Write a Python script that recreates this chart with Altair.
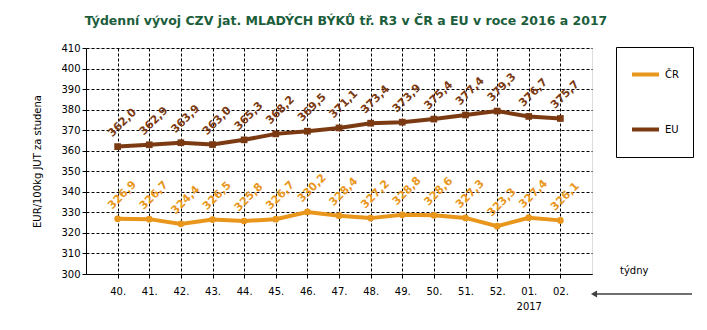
import altair as alt
import pandas as pd

weeks = ["40.", "41.", "42.", "43.", "44.", "45.", "46.", "47.", "48.", "49.", "50.", "51.", "52.", "01.", "02."]
cr_values = [326.9, 326.7, 324.4, 326.5, 325.8, 326.7, 330.2, 328.4, 327.2, 328.8, 328.6, 327.3, 323.3, 327.4, 326.1]
eu_values = [362.0, 362.9, 363.9, 363.0, 365.3, 368.2, 369.5, 371.1, 373.4, 373.9, 375.4, 377.4, 379.3, 376.7, 375.7]
series = ["ČR", "EU"]
colors = ["#e8961c", "#7b3a12"]
shapes = ["circle", "square"]
y_ticks = [300, 310, 320, 330, 340, 350, 360, 370, 380, 390, 400, 410]
title_text = "Týdenní  vývoj CZV jat. MLADÝCH BÝKŮ tř. R3  v ČR a EU v roce 2016 a 2017"
y_title = "EUR/100kg  JUT za studena"

df = pd.DataFrame({
    "tyden": weeks * 2,
    "serie": [series[0]] * len(weeks) + [series[1]] * len(weeks),
    "cena": cr_values + eu_values,
})

FONT = "DejaVu Sans"

x_enc = alt.X(
    "tyden:N", sort=weeks, title=None,
    scale=alt.Scale(type="point", padding=1),
    axis=alt.Axis(
        labelAngle=0, labelFont=FONT, labelFontSize=10, labelColor="black",
        labelPadding=8, labelLineHeight=15,
        labelExpr="datum.value == '01.' ? ['01.', '2017'] : datum.value",
        domainColor="black", tickColor="black", tickSize=4,
        grid=True, gridColor="black", gridDash=[3, 2], gridWidth=1,
    ),
)
y_enc = alt.Y(
    "cena:Q", title=y_title,
    scale=alt.Scale(domain=[300, 410], nice=False, zero=False),
    axis=alt.Axis(
        values=y_ticks, labelFont=FONT, labelFontSize=10,
        labelOverlap=False,
        labelColor="black", tickColor="black", tickSize=4, domainColor="black",
        grid=True, gridColor="black", gridDash=[3, 2], gridWidth=1,
        titleFont=FONT, titleFontSize=10, titleFontWeight="normal", titleColor="black",
        titlePadding=18,
    ),
)
color_scale = alt.Scale(domain=series, range=colors)

base = alt.Chart(df)

lines = base.mark_line(strokeWidth=4).encode(
    x=x_enc, y=y_enc,
    color=alt.Color("serie:N", scale=color_scale, legend=alt.Legend(
        title=None, orient="none", legendX=530, legendY=-1,
        strokeColor="black", fillColor="white", padding=14,
        symbolType="stroke", symbolSize=729, symbolStrokeWidth=4,
        labelFont=FONT, labelFontSize=10, labelColor="black", labelOffset=4,
        rowPadding=28, clipHeight=27,
    )),
)

point_layers = []
for name, shp in zip(series, shapes):
    point_layers.append(
        base.transform_filter(alt.datum.serie == name).mark_point(
            filled=True, size=45, opacity=1, shape=shp
        ).encode(
            x=x_enc, y=y_enc,
            color=alt.Color("serie:N", scale=color_scale, legend=None),
        )
    )

labels = base.transform_calculate(
    lab="replace(format(datum.cena, '.1f'), '.', ',')"
).mark_text(
    angle=315, radius=24, theta=0.2, align="center", baseline="middle",
    font=FONT, fontSize=11, fontWeight="bold",
).encode(
    x=x_enc, y=y_enc,
    text="lab:N",
    color=alt.Color("serie:N", scale=color_scale, legend=None),
)

tydny = alt.Chart(pd.DataFrame({"t": ["týdny"]})).mark_text(
    align="left", baseline="middle", font=FONT, fontSize=10, color="black"
).encode(text="t:N", x=alt.value(534), y=alt.value(223))

arrow_line = alt.Chart(pd.DataFrame({"a": [0]})).mark_rule(
    color="#404040", strokeWidth=1.5
).encode(x=alt.value(510), x2=alt.value(606), y=alt.value(246))

arrow_head = alt.Chart(pd.DataFrame({"a": [0]})).mark_point(
    shape="triangle-left", filled=True, color="#404040", size=50, opacity=1
).encode(x=alt.value(508), y=alt.value(246))

chart = alt.layer(lines, *point_layers, labels, tydny, arrow_line, arrow_head).properties(
    width=506, height=226,
    title=alt.TitleParams(
        title_text, font=FONT, fontSize=12.5, fontWeight="bold", color="#1b5e3b",
        anchor="middle", frame="group", offset=16, dx=7,
    ),
    autosize=alt.AutoSizeParams(type="none"),
    padding={"left": 86, "top": 48, "right": 115, "bottom": 56},
).configure_view(stroke="#808080", strokeWidth=1).configure(background="white")

chart.save("out.html", embed_options={"renderer": "svg", "actions": False})
